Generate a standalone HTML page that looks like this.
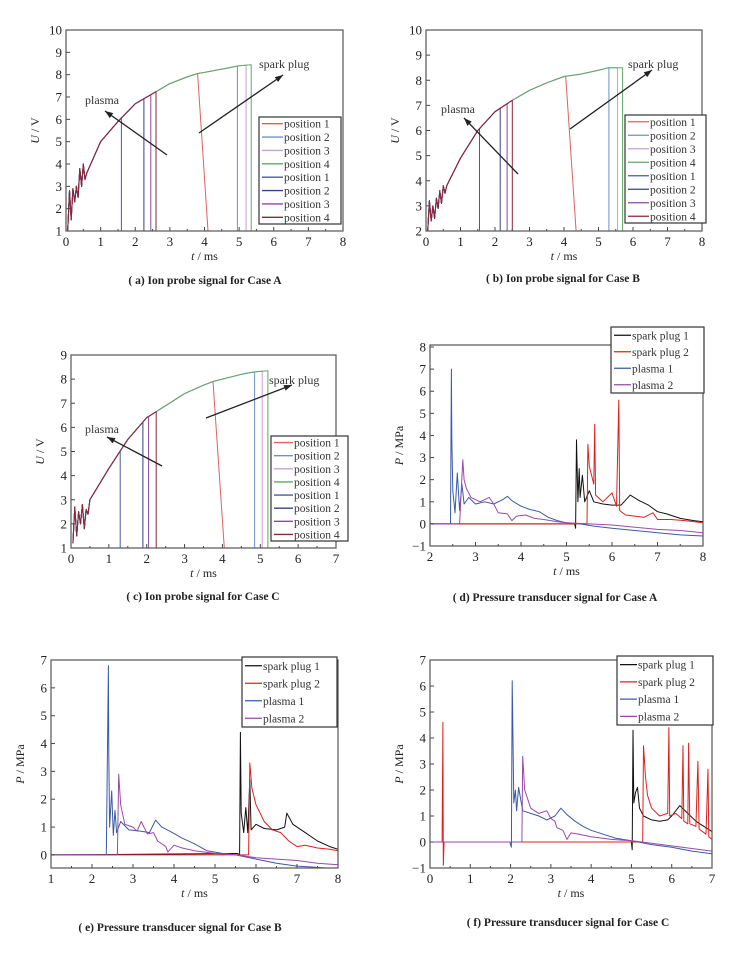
<!DOCTYPE html>
<html><head><meta charset="utf-8">
<style>
body{margin:0;background:#fff;}
svg text{font-family:"Liberation Serif",serif;}
</style></head>
<body>
<svg id="fig" width="739" height="949" viewBox="0 0 739 949" xmlns="http://www.w3.org/2000/svg"></svg>
<script>
// ---------- ION PROBE DATA ----------
const ionNames = ["position 1","position 2","position 3","position 4","position 1","position 2","position 3","position 4"];
const ionColors = ["#e06060","#6e92c8","#c8a0d4","#60a868","#4a5aa0","#3a4088","#8a4a9c","#8a2838"];
// Case A
const aRiseT = [0.6,1,1.5,2,2.5,3,3.5,3.8,4,4.5,5,5.4];
const aRiseU = [3.6,5.0,5.9,6.7,7.15,7.6,7.9,8.05,8.1,8.25,8.4,8.45];
const aEarlyT = [0.05,0.1,0.15,0.2,0.25,0.3,0.35,0.4,0.45,0.5,0.55,0.6];
const aEarlyU = [1.0,2.8,1.5,2.9,2.3,3.0,2.5,3.8,3.0,4.0,3.3,3.6];
const aEnd = [3.8,4.95,5.2,5.35,1.6,2.25,2.45,2.6];
// Case B
const bRiseT = [0.6,1,1.5,2,2.5,3,3.5,4,4.5,5,5.3,5.7];
const bRiseU = [3.8,4.9,6.0,6.75,7.2,7.6,7.9,8.15,8.25,8.4,8.5,8.5];
const bEarlyT = [0.05,0.1,0.15,0.2,0.25,0.3,0.35,0.4,0.45,0.5,0.55,0.6];
const bEarlyU = [2.0,3.2,2.4,3.0,2.5,3.3,2.9,3.6,3.1,3.8,3.5,3.8];
const bEnd = [4.05,5.3,5.55,5.7,1.55,2.15,2.35,2.5];
// Case C
const cRiseT = [0.5,1,1.5,2,2.5,3,3.5,3.75,4,4.5,4.85,5.2];
const cRiseU = [3.0,4.3,5.5,6.4,6.9,7.4,7.75,7.9,8.0,8.2,8.3,8.35];
const cEarlyT = [0.05,0.1,0.15,0.2,0.25,0.3,0.35,0.4,0.45,0.5];
const cEarlyU = [1.2,2.7,1.5,2.5,2.0,2.8,1.8,2.6,2.4,3.0];
const cEnd = [3.75,4.85,5.05,5.2,1.3,1.9,2.05,2.25];

// ---------- PRESSURE DATA ----------
const pNames = ["spark plug 1","spark plug 2","plasma 1","plasma 2"];
const pColors = ["#111111","#e02020","#3a5aa8","#9a4aa8"];
// Case A
const dSpark1T=[2,5.18,5.2,5.22,5.25,5.28,5.3,5.35,5.4,5.5,5.6,5.8,6,6.2,6.4,6.6,6.8,7,7.2,7.5,7.8,8];
const dSpark1P=[0,0,-0.2,3.8,1.0,2.5,1.2,2.2,1.0,1.5,1.0,0.9,0.85,0.85,1.3,1.05,0.85,0.55,0.45,0.25,0.15,0.1];
const dSpark2T=[2,5.45,5.47,5.5,5.6,5.62,5.64,5.8,6,6.1,6.15,6.17,6.3,6.5,6.7,6.9,7,7.3,7.6,8];
const dSpark2P=[0,0,3.6,2.6,1.8,4.5,1.3,1.0,1.4,0.8,5.6,0.6,0.4,0.35,0.3,0.5,0.2,0.2,0.15,0.05];
const dPlasma1T=[2,2.45,2.47,2.48,2.5,2.55,2.6,2.65,2.7,2.75,2.85,3,3.2,3.4,3.6,3.7,3.8,4,4.2,4.4,4.6,4.8,5,5.3,5.6,6,6.5,7,7.5,8];
const dPlasma1P=[0,0,7.0,3.9,1.5,0.5,2.3,0.6,1.8,0.9,1.2,0.9,1.0,0.9,1.1,1.25,1.05,0.8,0.65,0.55,0.3,0.15,0.05,0,-0.1,-0.2,-0.3,-0.4,-0.5,-0.55];
const dPlasma2T=[2,2.65,2.72,2.75,2.8,2.9,3,3.1,3.3,3.4,3.5,3.7,3.8,3.9,4.1,4.3,4.5,4.8,5,5.5,6,6.5,7,7.5,8];
const dPlasma2P=[0,0,2.9,2.0,1.6,1.2,1.1,1.0,1.2,0.9,0.5,0.45,0.15,0.35,0.4,0.25,0.2,0.1,0.05,0,-0.05,-0.15,-0.25,-0.3,-0.4];
// Case B
const eSpark1T=[1,5.55,5.6,5.62,5.64,5.7,5.75,5.8,5.85,5.88,6,6.2,6.5,6.7,6.75,6.9,7.2,7.5,7.8,8];
const eSpark1P=[0,0.05,0,4.4,1.5,0.8,1.7,0.8,2.7,0.9,1.1,0.95,0.9,1.0,1.5,1.1,0.8,0.5,0.3,0.2];
const eSpark2T=[1,5.82,5.85,5.9,6,6.2,6.4,6.6,6.8,7,7.2,7.5,7.8,8];
const eSpark2P=[0,0,3.3,2.4,1.8,1.2,0.9,0.8,0.5,0.3,0.35,0.25,0.2,0.15];
const ePlasma1T=[1,2.35,2.4,2.41,2.43,2.48,2.52,2.56,2.6,2.7,2.9,3.2,3.4,3.55,3.7,3.9,4.2,4.5,4.8,5.2,5.5,6,6.5,7,7.5,8];
const ePlasma1P=[0,0,6.8,3.6,1.0,2.3,0.7,1.6,0.8,1.2,0.9,0.85,0.8,1.25,1.0,0.85,0.6,0.4,0.15,0.05,0,-0.15,-0.3,-0.4,-0.45,-0.5];
const ePlasma2T=[1,2.62,2.65,2.7,2.8,3,3.1,3.2,3.35,3.5,3.6,3.8,3.85,4,4.2,4.5,5,5.5,6,6.5,7,7.5,8];
const ePlasma2P=[0,0,2.9,1.8,1.1,1.0,0.85,1.2,0.75,0.8,0.5,0.3,0.1,0.35,0.25,0.15,0.05,0,-0.1,-0.15,-0.2,-0.3,-0.35];
// Case C
const fSpark1T=[0,5,5.02,5.04,5.06,5.1,5.15,5.2,5.3,5.5,5.7,5.9,6,6.2,6.4,6.6,6.8,7];
const fSpark1P=[0,0,-0.3,4.3,1.5,1.9,2.1,1.3,1.0,0.85,0.8,0.85,1.0,1.4,1.1,0.8,0.6,0.4];
const fSpark2T=[0,0.3,0.32,0.33,0.35,5.28,5.3,5.35,5.4,5.5,5.7,5.9,5.93,5.95,6.1,6.25,6.28,6.3,6.4,6.42,6.45,6.6,6.65,6.68,6.85,6.9,6.92,7];
const fSpark2P=[0,0,4.6,-0.9,0,0,3.7,2.5,1.8,1.3,1.0,1.1,4.4,1.0,1.1,0.9,3.7,0.8,0.7,3.8,0.7,0.6,3.1,0.5,0.3,2.8,0.2,0.1];
const fPlasma1T=[0,1.98,2.02,2.04,2.05,2.08,2.12,2.15,2.2,2.3,2.5,2.7,2.9,3.1,3.25,3.4,3.6,3.8,4,4.3,4.6,5,5.5,6,6.5,7];
const fPlasma1P=[0,0,-0.2,6.2,5.1,1.5,2.0,1.2,2.1,1.2,1.1,1.0,0.85,1.0,1.3,1.05,0.8,0.6,0.45,0.3,0.15,0.05,-0.1,-0.2,-0.35,-0.45];
const fPlasma2T=[0,2.28,2.3,2.35,2.5,2.7,2.9,3,3.1,3.15,3.3,3.4,3.5,3.7,4,4.5,5,5.5,6,6.5,7];
const fPlasma2P=[0,0,3.3,2.0,1.3,1.1,1.2,0.9,0.8,0.55,0.45,0.1,0.35,0.3,0.2,0.1,0.05,-0.05,-0.15,-0.25,-0.35];

const NS="http://www.w3.org/2000/svg";
const svg=document.getElementById('fig');
function mk(tag,attrs,parent){const e=document.createElementNS(NS,tag);for(const k in attrs)e.setAttribute(k,attrs[k]);(parent||svg).appendChild(e);return e;}

function panel(p){
  const g=mk('g',{});
  
  
  const sx=v=>p.X0+(v-p.xmin)/(p.xmax-p.xmin)*(p.X1-p.X0);
  const sy=v=>p.Ytop+(p.ymax-v)/(p.ymax-p.ymin)*(p.Ybot-p.Ytop);
  const bTop=p.boxTop!==undefined?p.boxTop:p.Ytop, bBot=p.boxBot!==undefined?p.boxBot:p.Ybot;
  // clip
  const cid='clip-'+p.id;
  const cp=mk('clipPath',{id:cid},g);mk('rect',{x:p.X0,y:bTop,width:p.X1-p.X0,height:bBot-bTop},cp);
  const plot=mk('g',{'clip-path':'url(#'+cid+')'},g);
  
  
  // ticks
  const tg=mk('g',{},g);
  
  
  for(const t of p.xticks){
    const x=sx(t);
    mk('line',{x1:x,x2:x,y1:bBot,y2:bBot-4,stroke:'#444','stroke-width':1},tg);
    const tx=mk('text',{x:x,y:bBot+15,'text-anchor':'middle','font-size':13,fill:'#222'},tg);
    tx.textContent=t;
    
    
    const xm=sx(t+(p.xticks[1]-p.xticks[0])/2);
    if(xm<p.X1) mk('line',{x1:xm,x2:xm,y1:bBot,y2:bBot-2,stroke:'#444','stroke-width':1},tg);
  }
  for(const t of p.yticks){
    const y=sy(t);
    mk('line',{x1:p.X0,x2:p.X0+4,y1:y,y2:y,stroke:'#444','stroke-width':1},tg);
    const tx=mk('text',{x:p.X0-4,y:y+4.5,'text-anchor':'end','font-size':13,fill:'#222'},tg);
    tx.textContent=(t<0?'\u2212'+(-t):t);
    
    
  }
  // series
  p.series.forEach((s,i)=>{
    const pts=s.t.map((t,j)=>sx(t).toFixed(1)+','+sy(s.v[j]).toFixed(1)).join(' ');
    const pl=mk('polyline',{points:pts,fill:'none',stroke:s.color,'stroke-width':s.w||1,'stroke-linejoin':'round'},plot);
    
    
  });
  // box
  const box=mk('rect',{x:p.X0,y:bTop,width:p.X1-p.X0,height:bBot-bTop,fill:'none',stroke:'#555','stroke-width':1.2},g);
  
  
  // annotations
  (p.arrows||[]).forEach(a=>{
    const ag=mk('g',{},g);
    
    
    mk('line',{x1:a.x1,y1:a.y1,x2:a.x2,y2:a.y2,stroke:'#222','stroke-width':1.3},ag);
    const ang=Math.atan2(a.y2-a.y1,a.x2-a.x1),L=8,W=3;
    const bx=a.x2-L*Math.cos(ang),by=a.y2-L*Math.sin(ang);
    mk('polygon',{points:`${a.x2},${a.y2} ${bx-W*Math.sin(ang)},${by+W*Math.cos(ang)} ${bx+W*Math.sin(ang)},${by-W*Math.cos(ang)}`,fill:'#222'},ag);
    const t=mk('text',{x:a.tx,y:a.ty,'font-size':12,fill:'#333'},ag);t.textContent=a.label;
  });
  // legend
  const L=p.legend;
  const lg=mk('g',{},g);
  
  
  mk('rect',{x:L.x,y:L.y,width:L.w,height:L.h,fill:'#fff',stroke:'#333','stroke-width':1.2},lg);
  const rh=L.h/p.series.length;
  p.series.forEach((s,i)=>{
    const yy=L.y+rh*(i+0.5);
    const e=mk('g',{},lg);
    
    
    mk('line',{x1:L.x+3,x2:L.x+L.sw,y1:yy,y2:yy,stroke:s.color,'stroke-width':1.3},e);
    const t=mk('text',{x:L.x+L.sw+1,y:yy+4,'font-size':L.fs,fill:'#333'},e);t.textContent=s.name;
  });
  // axis labels
  const xl=mk('text',{x:(p.X0+p.X1)/2,y:bBot+29,'text-anchor':'middle','font-size':12,fill:'#222'},g);
  xl.innerHTML='<tspan font-style="italic">t</tspan> / ms';
  
  
  const yx=p.X0-27,yy=(bTop+bBot)/2;
  const yl=mk('text',{x:yx,y:yy,'text-anchor':'middle','font-size':12,fill:'#222',transform:`rotate(-90 ${yx} ${yy})`},g);
  yl.innerHTML=p.ylab;
  
  
  const cap=mk('text',{x:p.capX,y:p.capY,'text-anchor':'middle','font-size':11.5,'font-weight':'bold',fill:'#222'},g);
  cap.textContent=p.caption;
  
  
}

function ionSeries(riseT,riseU,earlyT,earlyU,ends,ymin){
  return ends.map((e,i)=>{
    const t=[],v=[];
    earlyT.forEach((x,j)=>{t.push(x);v.push(earlyU[j]);});
    riseT.forEach((x,j)=>{if(x<e){t.push(x);v.push(riseU[j]);}});
    // value at end via last/next rise point
    let k=riseT.findIndex(x=>x>=e);
    let ue;
    if(k<=0) ue=riseU[riseU.length-1];
    else ue=riseU[k-1]+(riseU[k]-riseU[k-1])*(e-riseT[k-1])/(riseT[k]-riseT[k-1]);
    t.push(e);v.push(ue);
    t.push(i===0?e+0.3:e);v.push(ymin);
    return {name:ionNames[i],color:ionColors[i],t:t,v:v};
  });
}
const rng=(a,b,s)=>{const r=[];for(let v=a;v<=b+1e-9;v+=s)r.push(Math.round(v*10)/10);return r;};

panel({id:'panel-a',X0:66,X1:343,Ytop:30,Ybot:231,xmin:0,xmax:8,ymin:1,ymax:10,
  xticks:rng(0,8,1),yticks:rng(1,10,1),
  series:ionSeries(aRiseT,aRiseU,aEarlyT,aEarlyU,aEnd,1),
  legend:{x:259,y:117,w:82,h:107,sw:24,fs:11.5},
  arrows:[{name:'plasma',x1:167,y1:155,x2:105,y2:111,tx:85,ty:104,label:'plasma'},
          {name:'spark-plug',x1:199,y1:133,x2:283,y2:75,tx:259,ty:68,label:'spark plug'}],
  ylab:'<tspan font-style="italic">U</tspan> / V',capX:205,capY:284,caption:'( a)  Ion probe signal for Case A'});

panel({id:'panel-b',X0:426,X1:702,Ytop:30,Ybot:231,xmin:0,xmax:8,ymin:2,ymax:10,
  xticks:rng(0,8,1),yticks:rng(2,10,1),
  series:ionSeries(bRiseT,bRiseU,bEarlyT,bEarlyU,bEnd,2),
  legend:{x:625,y:115,w:81,h:108,sw:24,fs:11.5},
  arrows:[{name:'plasma',x1:518,y1:174,x2:464,y2:118,tx:441,ty:113,label:'plasma'},
          {name:'spark-plug',x1:570,y1:129,x2:652,y2:70,tx:628,ty:68,label:'spark plug'}],
  ylab:'<tspan font-style="italic">U</tspan> / V',capX:563,capY:282,caption:'( b)  Ion probe signal for Case B'});

panel({id:'panel-c',X0:71,X1:336,Ytop:355,Ybot:548,xmin:0,xmax:7,ymin:1,ymax:9,
  xticks:rng(0,7,1),yticks:rng(1,9,1),
  series:ionSeries(cRiseT,cRiseU,cEarlyT,cEarlyU,cEnd,1),
  legend:{x:271,y:436,w:77,h:105,sw:22,fs:11.5},
  arrows:[{name:'plasma',x1:162,y1:466,x2:107,y2:437,tx:85,ty:433,label:'plasma'},
          {name:'spark-plug',x1:206,y1:418,x2:292,y2:385,tx:269,ty:384,label:'spark plug'}],
  ylab:'<tspan font-style="italic">U</tspan> / V',capX:203,capY:600,caption:'( c)  Ion probe signal for Case C'});

function pSeries(sets){return sets.map((s,i)=>({name:pNames[i],color:pColors[i],t:s[0],v:s[1]}));}

panel({id:'panel-d',X0:430,X1:703,Ytop:347,Ybot:546,boxTop:345,xmin:2,xmax:8,ymin:-1,ymax:8,
  xticks:rng(2,8,1),yticks:rng(-1,8,1),
  series:pSeries([[dSpark1T,dSpark1P],[dSpark2T,dSpark2P],[dPlasma1T,dPlasma1P],[dPlasma2T,dPlasma2P]]),
  legend:{x:611,y:327,w:93,h:66,sw:20,fs:11.5},
  ylab:'<tspan font-style="italic">P</tspan> / MPa',capX:555,capY:601,caption:'( d)  Pressure transducer signal for Case A'});

panel({id:'panel-e',X0:51,X1:338,Ytop:660,Ybot:868,xmin:1,xmax:8,ymin:-0.47,ymax:7,
  xticks:rng(1,8,1),yticks:rng(0,7,1),
  series:pSeries([[eSpark1T,eSpark1P],[eSpark2T,eSpark2P],[ePlasma1T,ePlasma1P],[ePlasma2T,ePlasma2P]]),
  legend:{x:242,y:657,w:95,h:70,sw:20,fs:11.5},
  ylab:'<tspan font-style="italic">P</tspan> / MPa',capX:180,capY:931,caption:'( e)  Pressure transducer signal for Case B'});

panel({id:'panel-f',X0:430,X1:712,Ytop:660,Ybot:868,xmin:0,xmax:7,ymin:-1,ymax:7,
  xticks:rng(0,7,1),yticks:rng(-1,7,1),
  series:pSeries([[fSpark1T,fSpark1P],[fSpark2T,fSpark2P],[fPlasma1T,fPlasma1P],[fPlasma2T,fPlasma2P]]),
  legend:{x:617,y:656,w:96,h:69,sw:20,fs:11.5},
  ylab:'<tspan font-style="italic">P</tspan> / MPa',capX:568,capY:926,caption:'( f)  Pressure transducer signal for Case C'});
</script>
</body></html>
